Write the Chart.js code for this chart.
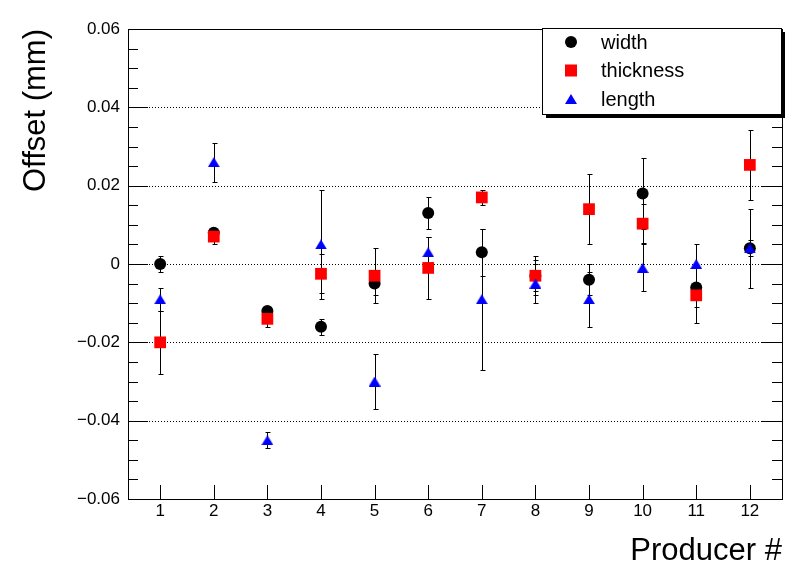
<!DOCTYPE html>
<html>
<head>
<meta charset="utf-8">
<title>Offset per producer</title>
<script src="https://cdn.jsdelivr.net/npm/chart.js@4.4.1/dist/chart.umd.min.js"></script>
<style>
html,body{margin:0;padding:0;background:#fff;}
#wrap{width:798px;height:574px;}
</style>
</head>
<body>
<div id="wrap"><canvas id="offsetChart" width="798" height="574"></canvas></div>
<script>
const producers = [1,2,3,4,5,6,7,8,9,10,11,12];

const widthVals = [0.000, 0.008, -0.012, -0.016, -0.005, 0.013, 0.003, -0.003, -0.004, 0.018, -0.006, 0.004];
const widthErr  = [0.002, 0.001, 0.001, 0.002, 0.003, 0.004, 0.006, 0.005, 0.004, 0.009, 0.005, 0.010];

const thickVals = [-0.020, 0.007, -0.014, -0.0025, -0.003, -0.001, 0.017, -0.003, 0.014, 0.0103, -0.008, 0.0253];
const thickErr  = [0.008, 0.002, 0.002, 0.005, 0.007, 0.008, 0.002, 0.004, 0.009, 0.005, 0.007, 0.009];

const lengthVals = [-0.009, 0.026, -0.045, 0.005, -0.030, 0.003, -0.009, -0.005, -0.009, -0.001, 0.000, 0.004];
const lengthErr  = [0.003, 0.005, 0.002, 0.014, 0.007, 0.004, 0.018, 0.005, 0.007, 0.006, 0.005, 0.002];

const yTicks = [-0.06, -0.04, -0.02, 0, 0.02, 0.04, 0.06];
const yTickLabels = ["\u22120.06", "\u22120.04", "\u22120.02", "0", "0.02", "0.04", "0.06"];
const xTickLabels = ["1","2","3","4","5","6","7","8","9","10","11","12"];

const FONT = '"Liberation Sans", Arial, Helvetica, sans-serif';

function points(vals){
  return producers.map((p,i)=>({x:p, y:vals[i]}));
}

/* ROOT style up-triangle, centred on its box */
const triangle = document.createElement("canvas");
triangle.width = 12; triangle.height = 10;
(function(){
  const c = triangle.getContext("2d");
  c.fillStyle = "#0000ff";
  c.beginPath();
  c.moveTo(6, 0);
  c.lineTo(12, 10);
  c.lineTo(0, 10);
  c.closePath();
  c.fill();
})();

/* dotted grid + error bars under the markers */
const errorBars = {
  id:"errorBars",
  beforeDatasetsDraw(chart){
    const {ctx, chartArea:a, scales:{x, y}} = chart;
    ctx.save();
    ctx.strokeStyle = "#000";
    ctx.lineWidth = 1;
    ctx.setLineDash([1,2]);
    yTicks.slice(1,-1).forEach(v=>{
      const py = Math.round(y.getPixelForValue(v)) + 0.5;
      ctx.beginPath();
      ctx.moveTo(a.left, py);
      ctx.lineTo(a.right, py);
      ctx.stroke();
    });
    ctx.setLineDash([]);
    chart.data.datasets.forEach(ds=>{
      ds.data.forEach((pt,i)=>{
        const e = ds.errorBars[i];
        const px = Math.round(x.getPixelForValue(pt.x)) + 0.5;
        const top = Math.round(y.getPixelForValue(pt.y + e)) + 0.5;
        const bot = Math.round(y.getPixelForValue(pt.y - e)) + 0.5;
        ctx.beginPath();
        ctx.moveTo(px, top); ctx.lineTo(px, bot);
        ctx.moveTo(px-2, top); ctx.lineTo(px+3, top);
        ctx.moveTo(px-2, bot); ctx.lineTo(px+3, bot);
        ctx.stroke();
      });
    });
    ctx.restore();
  }
};

function marker(ctx, ds, cx, cy){
  ctx.fillStyle = ds.pointBackgroundColor;
  if(ds.pointStyle === triangle){
    ctx.drawImage(triangle, cx-6, cy-5);
    return;
  }
  ctx.beginPath();
  if(ds.pointStyle === "circle"){
    ctx.arc(cx, cy, 6, 0, Math.PI*2);
  } else {
    ctx.rect(cx-6, cy-6, 12, 12);
  }
  ctx.fill();
}

/* frame, inward ticks, legend box */
const frame = {
  id:"frame",
  afterDraw(chart){
    const {ctx, chartArea:a, scales:{x, y}} = chart;
    ctx.save();
    ctx.strokeStyle = "#000";
    ctx.lineWidth = 1;
    ctx.strokeRect(a.left+0.5, a.top+0.5, a.right-a.left, a.bottom-a.top);

    ctx.beginPath();
    for(let k = -12; k <= 12; k++){
      const v = k*0.005;
      const py = Math.round(y.getPixelForValue(v)) + 0.5;
      const len = (k % 4 === 0) ? 20 : 10;
      ctx.moveTo(a.left, py); ctx.lineTo(a.left+len, py);
      ctx.moveTo(a.right, py); ctx.lineTo(a.right-len, py);
    }
    producers.forEach(p=>{
      const px = Math.round(x.getPixelForValue(p)) + 0.5;
      ctx.moveTo(px, a.bottom); ctx.lineTo(px, a.bottom-14);
    });
    ctx.stroke();

    // legend
    const lx = 542, ly = 28, lw = 239, lh = 86;
    ctx.fillStyle = "#000";
    ctx.fillRect(lx+4, ly+4, lw, lh);
    ctx.fillStyle = "#fff";
    ctx.fillRect(lx, ly, lw, lh);
    ctx.strokeRect(lx+0.5, ly+0.5, lw, lh);
    ctx.font = "20px " + FONT;
    ctx.textBaseline = "middle";
    ctx.textAlign = "left";
    chart.data.datasets.forEach((ds,i)=>{
      const cy = 42 + i*28.5;
      marker(ctx, ds, 571, cy);
      ctx.fillStyle = "#000";
      ctx.fillText(ds.label, 601, cy+1);
    });
    ctx.restore();
  }
};

new Chart(document.getElementById("offsetChart"), {
  type:"scatter",
  data:{
    datasets:[
      {label:"width", data:points(widthVals), errorBars:widthErr, order:2,
       pointStyle:"circle", pointRadius:6, pointBorderWidth:0,
       pointBackgroundColor:"#000000", pointBorderColor:"#000000"},
      {label:"thickness", data:points(thickVals), errorBars:thickErr, order:1,
       pointStyle:"rect", pointRadius:8.3, pointBorderWidth:0,
       pointBackgroundColor:"#ff0000", pointBorderColor:"#ff0000"},
      {label:"length", data:points(lengthVals), errorBars:lengthErr, order:0,
       pointStyle:triangle, pointRadius:6, pointBorderWidth:0,
       pointBackgroundColor:"#0000ff", pointBorderColor:"#0000ff"}
    ]
  },
  options:{
    responsive:false,
    animation:false,
    events:[],
    layout:{padding:{top:29, right:16, left:0, bottom:0}},
    plugins:{legend:{display:false}, tooltip:{enabled:false}},
    scales:{
      x:{
        type:"linear", min:0.4, max:12.6,
        afterBuildTicks:s=>{ s.ticks = producers.map(v=>({value:v})); },
        afterFit:s=>{ s.height = 75; },
        grid:{display:false, drawTicks:false},
        border:{display:false},
        ticks:{padding:2, color:"#000", font:{family:FONT, size:17},
               callback:(v)=>xTickLabels[producers.indexOf(v)]},
        title:{display:true, text:"Producer #", align:"end", color:"#000",
               font:{family:FONT, size:31}, padding:{top:0, bottom:4}}
      },
      y:{
        type:"linear", min:-0.06, max:0.06,
        afterBuildTicks:s=>{ s.ticks = yTicks.map(v=>({value:v})); },
        afterFit:s=>{ s.width = 128; },
        grid:{display:false, drawTicks:false},
        border:{display:false},
        ticks:{padding:8, color:"#000", font:{family:FONT, size:17},
               callback:(v)=>{
                 const i = yTicks.findIndex(t=>Math.abs(t-v)<1e-9);
                 return i >= 0 ? yTickLabels[i] : "";
               }},
        title:{display:true, text:"Offset (mm)", align:"end", color:"#000",
               font:{family:FONT, size:31}, padding:{top:18, bottom:0}}
      }
    }
  },
  plugins:[errorBars, frame]
});
</script>
</body>
</html>
